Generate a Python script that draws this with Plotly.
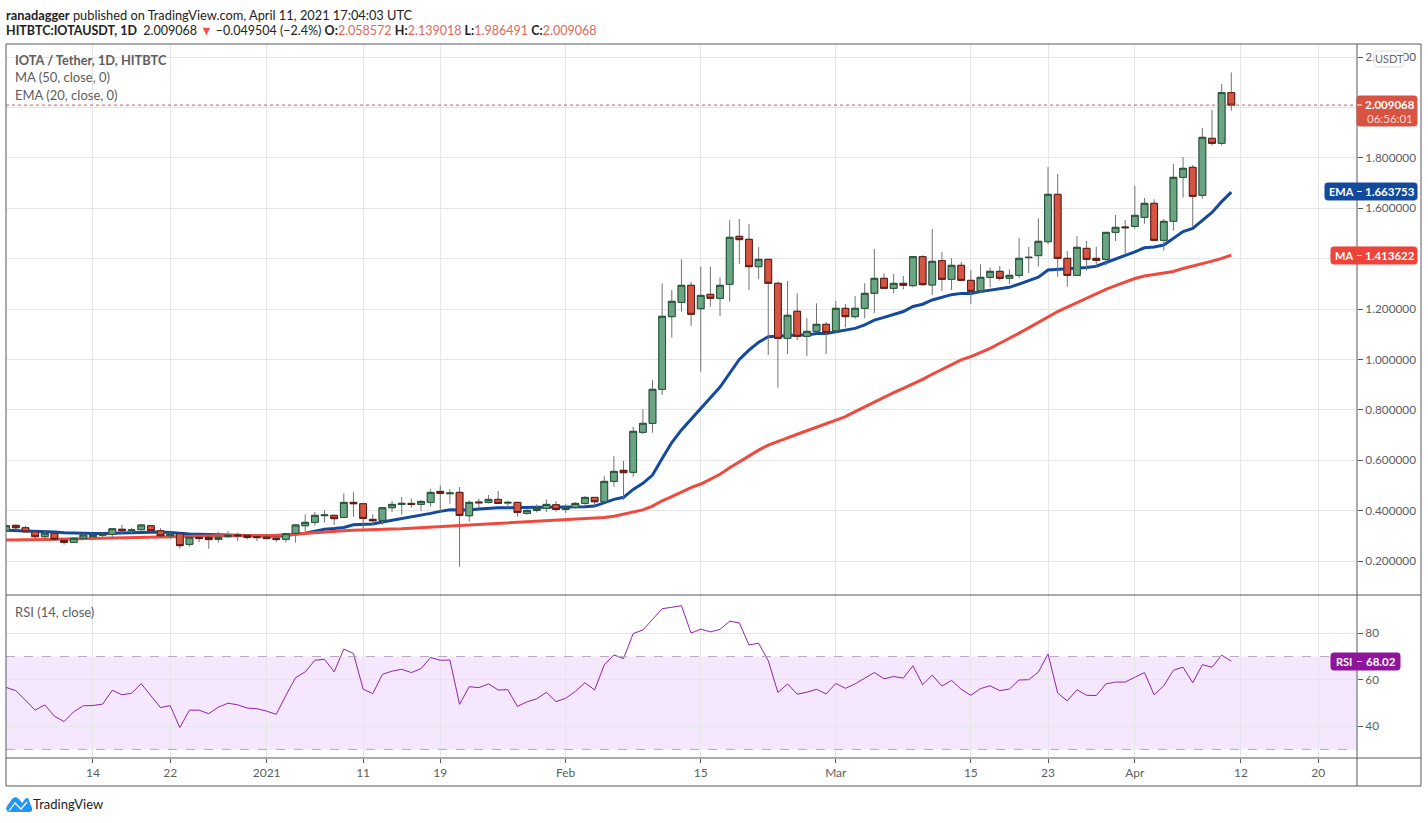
import pandas as pd
import plotly.graph_objects as go

dates = pd.date_range("2020-12-05", "2021-04-11").strftime("%Y-%m-%d").tolist()

opens = [.320, .3415, .332, .316, .2965, .310, .282, .274, .290, .2965, .302, .306, .326, .320, .3243, .340, .320, .300, .3085, .266,
         .294, .294, .286, .2965, .303, .302, .2965, .295, .290, .286, .310, .340, .3534, .3799, .3812, .3731, .4326, .4273, .3651, .3612,
         .4114, .4247, .4286, .4247, .4326, .4763, .467, .4723, .3797, .4339, .4326, .4445, .43, .4326, .3889, .4008, .4088, .4233, .4048, .4128,
         .4286, .4524, .4352, .516, .5598, .5519, .7106, .7463, .881, 1.1696, 1.2265, 1.294, 1.2013, 1.2582, 1.2424, 1.2979, 1.4884, 1.4765, 1.368, 1.397,
         1.302, 1.0836, 1.191, 1.0916, 1.1114, 1.1392, 1.114, 1.2027, 1.1696, 1.2027, 1.2622, 1.3217, 1.2820, 1.3019, 1.2926, 1.4077, 1.2953, 1.3918, 1.3178, 1.3733,
         1.3138, 1.2728, 1.3257, 1.3495, 1.3217, 1.3336, 1.4037, 1.4117, 1.4672, 1.655, 1.401, 1.3336, 1.4407, 1.401, 1.397, 1.5042, 1.5254, 1.528, 1.5637, 1.6193,
         1.4725, 1.5479, 1.7225, 1.7622, 1.6510, 1.8772, 1.8574, 2.058572]
highs = [.343, .345, .339, .320, .320, .312, .286, .294, .310, .307, .312, .331, .343, .332, .347, .344, .330, .316, .312, .299,
         .302, .305, .315, .319, .312, .307, .305, .305, .294, .310, .347, .3852, .3944, .401, .3838, .4683, .4736, .4286, .385, .4141,
         .4379, .4538, .4485, .4405, .4842, .500, .4855, .4935, .4405, .4472, .4617, .4776, .4392, .4352, .4048, .4247, .4445, .4379, .4247, .4339,
         .4577, .4538, .5371, .6165, .5969, .7318, .8019, .918, 1.302, 1.2754, 1.397, 1.307, 1.368, 1.368, 1.3257, 1.553, 1.5572, 1.5373, 1.446, 1.397,
         1.3085, 1.311, 1.262, 1.1643, 1.2225, 1.1484, 1.2318, 1.2199, 1.2516, 1.3019, 1.4381, 1.3416, 1.3389, 1.331, 1.4077, 1.413, 1.5175, 1.4262, 1.4011, 1.3865,
         1.3548, 1.3773, 1.364, 1.3707, 1.3574, 1.4818, 1.446, 1.5598, 1.7635, 1.7357, 1.4301, 1.4897, 1.4698, 1.4473, 1.5042, 1.573, 1.5532, 1.6881, 1.6405, 1.6352,
         1.5571, 1.7754, 1.8032, 1.7714, 1.9182, 1.9897, 2.0929, 2.139018]
lows = [.316, .327, .312, .290, .290, .281, .265, .273, .286, .294, .294, .294, .307, .310, .320, .315, .2965, .286, .249, .257,
        .275, .249, .273, .293, .2794, .286, .2794, .286, .275, .273, .273, .316, .340, .352, .343, .3704, .3757, .3294, .3426, .344,
        .3942, .3836, .4114, .3995, .4154, .3956, .4273, .1773, .3559, .4088, .4286, .4273, .4088, .3757, .3836, .3929, .3942, .3956, .3903, .4088,
        .4233, .4167, .4326, .4948, .4421, .5347, .7040, .7093, .859, 1.0863, 1.1894, 1.1326, .9513, 1.209, 1.172, 1.229, 1.3786, 1.2754, 1.319, 1.0175,
        .8878, 1.0215, 1.077, 1.0135, 1.106, 1.0215, 1.106, 1.1273, 1.1617, 1.163, 1.1841, 1.2794, 1.2622, 1.2781, 1.286, 1.2926, 1.2556, 1.2715, 1.2754, 1.3111,
        1.2199, 1.2622, 1.286, 1.3125, 1.2992, 1.3230, 1.3416, 1.368, 1.4566, 1.3283, 1.2886, 1.3336, 1.352, 1.3653, 1.372, 1.4698, 1.4143, 1.5188, 1.5386, 1.4725,
        1.4315, 1.5108, 1.6418, 1.5267, 1.6378, 1.8481, 1.8481, 1.986491]
closes = [.340, .332, .316, .2965, .310, .286, .274, .290, .303, .302, .305, .328, .320, .323, .343, .320, .300, .307, .261, .294,
          .289, .285, .294, .302, .300, .293, .293, .289, .285, .3085, .343, .3534, .3812, .3825, .368, .4326, .4273, .3691, .3598, .4114,
          .4247, .4286, .4247, .4366, .4723, .4683, .4696, .381, .4326, .4313, .4445, .4286, .4326, .3929, .4008, .4088, .4247, .4048, .4114, .4286,
          .4524, .4352, .516, .5556, .5505, .7146, .7463, .8813, 1.171, 1.2305, 1.294, 1.179, 1.254, 1.2424, 1.294, 1.4844, 1.4752, 1.368, 1.397, 1.302,
          1.0836, 1.175, 1.0916, 1.1114, 1.1392, 1.1074, 1.2027, 1.1696, 1.2027, 1.2622, 1.3217, 1.2820, 1.3019, 1.294, 1.4077, 1.2966, 1.3892, 1.3178, 1.3733, 1.3138,
          1.2701, 1.3257, 1.3495, 1.3217, 1.3336, 1.4011, 1.405, 1.4686, 1.655, 1.401, 1.3336, 1.4447, 1.397, 1.393, 1.5042, 1.5241, 1.5227, 1.5717, 1.6193, 1.4725,
          1.5479, 1.7225, 1.7582, 1.6471, 1.8812, 1.8574, 2.0586, 2.009068]

ema = [.322, .321, .320, .319, .318, .315, .312, .310, .309, .309, .309, .310, .311, .311, .313, .315, .315, .313, .309, .307,
       .306, .305, .304, .303, .303, .302, .300, .299, .298, .300, .307, .310, .318, .326, .329, .333, .344, .3466, .3466, .3546,
       .361, .368, .374, .381, .389, .397, .4035, .402, .402, .406, .409, .4114, .4114, .4128, .413, .413, .413, .413, .413, .414,
       .4154, .418, .431, .4445, .4527, .484, .508, .541, .607, .670, .720, .762, .803, .845, .89, .945, 1.0, 1.037, 1.068, 1.09,
       1.093, 1.093, 1.097, 1.097, 1.103, 1.103, 1.11, 1.117, 1.123, 1.137, 1.156, 1.167, 1.18, 1.19, 1.21, 1.219, 1.236, 1.245, 1.257, 1.262,
       1.262, 1.269, 1.275, 1.279, 1.286, 1.299, 1.313, 1.326, 1.355, 1.358, 1.358, 1.361, 1.365, 1.37, 1.384, 1.398, 1.41, 1.427, 1.443, 1.446,
       1.454, 1.48, 1.507, 1.52, 1.553, 1.583, 1.626, 1.663753]
ma = [.283, .283, .284, .284, .285, .286, .287, .288, .289, .289, .290, .291, .292, .293, .294, .295, .296, .297, .298, .298,
      .299, .299, .300, .300, .300, .301, .301, .302, .302, .304, .307, .310, .313, .315, .317, .320, .322, .324, .325, .326,
      .327, .328, .330, .332, .334, .336, .338, .341, .342, .344, .346, .348, .350, .352, .354, .356, .358, .361, .363, .365,
      .367, .370, .373, .378, .386, .392, .403, .418, .439, .4553, .474, .491, .5055, .524, .544, .570, .594, .615, .640, .660,
      .673, .689, .703, .717, .730, .746, .759, .773, .793, .812, .832, .849, .868, .885, .902, .921, .941, .961, .980, .998,
      1.011, 1.027, 1.044, 1.064, 1.083, 1.104, 1.125, 1.147, 1.17, 1.19, 1.207, 1.225, 1.243, 1.261, 1.278, 1.293, 1.308, 1.321, 1.331, 1.337,
      1.341, 1.349, 1.361, 1.37, 1.381, 1.39, 1.401, 1.413622]
rsi = [56.7, 55.3, 51.2, 46.9, 49.2, 44.3, 42, 46.2, 48.8, 48.9, 49.5, 55.5, 53.5, 54.2, 58.3, 53, 48, 48.9, 39.4, 46.9,
       46.9, 45.4, 48.2, 49.9, 49.2, 47.8, 47.5, 46.5, 45.1, 53.3, 60.9, 63.4, 68.4, 68.8, 63.4, 73.2, 71.3, 56, 54, 62.3,
       63.7, 64.5, 63.1, 64.8, 69.6, 68.4, 68.5, 49.4, 57, 56.6, 58.2, 55.6, 55.7, 48.5, 50.5, 51.8, 54.6, 50.6, 52, 55,
       58.7, 55.6, 66.4, 70.7, 69.1, 79.9, 81.4, 86, 90.6, 91.2, 91.9, 80.1, 81.8, 80.6, 81.7, 85.2, 84.5, 75, 75.7, 68.2,
       54.5, 58.2, 53.8, 54.6, 55.9, 53.9, 58.4, 56.3, 58.2, 60.7, 63.1, 60.4, 61.4, 60.7, 66, 57.9, 62, 57.3, 59.7, 55.9,
       53.3, 56.2, 57.4, 55.3, 56, 59.9, 60, 63.3, 71.1, 54.3, 50.9, 55.7, 53.3, 53.2, 58.2, 59, 59, 61.1, 63.1, 53.5,
       57.4, 64.1, 65.4, 58.7, 66.5, 65.4, 70.6, 68.02]

tick_dates = ["2020-12-14", "2020-12-22", "2021-01-01", "2021-01-11", "2021-01-19", "2021-02-01", "2021-02-15",
              "2021-03-01", "2021-03-15", "2021-03-23", "2021-04-01", "2021-04-12", "2021-04-20"]
tick_labels = ["14", "22", "2021", "11", "19", "Feb", "15", "Mar", "15", "23", "Apr", "12", "20"]
price_ticks = [0.2, 0.4, 0.6, 0.8, 1.0, 1.2, 1.4, 1.6, 1.8, 2.0, 2.2]
# 1.4 and 2.0 sit behind the MA and last price tags, so they show no text
price_labels = ["0.200000", "0.400000", "0.600000", "0.800000", "1.000000", "1.200000", "", "1.600000", "1.800000", "", "2.200000"]
rsi_ticks = [40, 60, 80]

W, H = 1428, 823
FONT = "Lato"
GRID = "#e6e6e6"
FRAME = "#55585f"
TEXT = "#5d5d5d"
GREEN, GREEN_EDGE = "#6ba583", "#225437"
RED, RED_EDGE = "#d75442", "#5b1a13"


def px(x):
    return x / W


def py(y):
    return 1 - y / H


def paper_line(x0, y0, x1, y1, color=FRAME, width=1):
    return dict(type="line", xref="paper", yref="paper", x0=px(x0), y0=py(y0), x1=px(x1), y1=py(y1),
                line=dict(color=color, width=width), layer="above")


def round_box(x0, y0, x1, y1, fill, line=None, r=2.5):
    # rounded rectangle given in page pixels
    pts = [(x0 + r, y0), (x1 - r, y0), (x1, y0), (x1, y0 + r), (x1, y1 - r), (x1, y1), (x1 - r, y1),
           (x0 + r, y1), (x0, y1), (x0, y1 - r), (x0, y0 + r), (x0, y0), (x0 + r, y0)]
    p = [f"{px(a):.5f},{py(b):.5f}" for a, b in pts]
    path = f"M{p[0]} L{p[1]} Q{p[2]} {p[3]} L{p[4]} Q{p[5]} {p[6]} L{p[7]} Q{p[8]} {p[9]} L{p[10]} Q{p[11]} {p[12]} Z"
    return dict(type="path", xref="paper", yref="paper", path=path, fillcolor=fill,
                line=dict(color=line or fill, width=1), layer="above")


def label(x, y, text, size=12, color=TEXT, anchor="left"):
    return dict(xref="paper", yref="paper", x=px(x), y=py(y), text=text, showarrow=False, xanchor=anchor,
                yanchor="middle", align=anchor, borderpad=0, borderwidth=0,
                font=dict(family=FONT, size=size, color=color))


body_high = [max(o, c) for o, c in zip(opens, closes)]
body_low = [min(o, c) for o, c in zip(opens, closes)]

fig = go.Figure()
fig.add_trace(go.Scatter(x=dates, y=ema, mode="lines", line=dict(color="#134a9e", width=3), zorder=-1, hoverinfo="skip"))
fig.add_trace(go.Scatter(x=dates, y=ma, mode="lines", line=dict(color="#ef4a3f", width=3), zorder=-1, hoverinfo="skip"))
# grey wicks first, then the bodies with their dark edge on top
fig.add_trace(go.Candlestick(x=dates, open=opens, high=highs, low=lows, close=closes, whiskerwidth=0,
                             increasing=dict(line=dict(color="#737375", width=1), fillcolor=GREEN),
                             decreasing=dict(line=dict(color="#737375", width=1), fillcolor=RED)))
fig.add_trace(go.Candlestick(x=dates, open=opens, high=body_high, low=body_low, close=closes, whiskerwidth=0,
                             increasing=dict(line=dict(color=GREEN_EDGE, width=1), fillcolor=GREEN),
                             decreasing=dict(line=dict(color=RED_EDGE, width=1), fillcolor=RED)))
fig.add_trace(go.Scatter(x=dates, y=rsi, mode="lines", xaxis="x2", yaxis="y2", line=dict(color="#8e24aa", width=1),
                         hoverinfo="skip"))

shapes = [
    # RSI band and its dashed limits
    dict(type="rect", xref="x2 domain", yref="y2", x0=0, x1=1, y0=30, y1=70, fillcolor="rgba(160,40,240,0.11)",
         line=dict(width=0), layer="below"),
    dict(type="line", xref="x2 domain", yref="y2", x0=0, x1=1, y0=70, y1=70, line=dict(color="#b8a9be", width=1, dash="dash")),
    dict(type="line", xref="x2 domain", yref="y2", x0=0, x1=1, y0=30, y1=30, line=dict(color="#b8a9be", width=1, dash="dash")),
    # last price line
    dict(type="line", xref="x domain", yref="y", x0=0, x1=1, y0=closes[-1], y1=closes[-1],
         line=dict(color="#c9594a", width=1, dash="dot")),
    # frame
    paper_line(6, 44, 1421, 44), paper_line(6, 44, 6, 786), paper_line(1421, 44, 1421, 786),
    paper_line(6, 786, 1421, 786), paper_line(6, 595, 1421, 595), paper_line(6, 758, 1421, 758),
    paper_line(1357, 44, 1357, 786),
    # value tags
    round_box(1374, 51, 1404, 67, "white", "#dddddd", 4),
    round_box(1357, 96, 1417, 126, "#d75442"),
    round_box(1325, 183, 1417, 200, "#134a9e"),
    round_box(1331, 247, 1417, 264, "#ef4238"),
    round_box(1331, 653, 1400, 670, "#8e1599"),
    paper_line(1357, 191.5, 1362, 191.5, "white"),
    paper_line(1357, 255.5, 1362, 255.5, "white"),
    paper_line(1357, 661.5, 1362, 661.5, "white"),
    paper_line(1357, 105, 1362, 105, "white"),
    # TradingView cloud
    dict(type="path", xref="paper", yref="paper", fillcolor="#2196f3", line=dict(width=0), layer="above",
         path="M" + " L".join(f"{px(a):.5f},{py(b):.5f}" for a, b in
                              [(8, 812), (6, 809), (7, 806), (13, 798), (16, 797), (19, 799), (22, 803), (26, 798),
                               (28, 798), (30, 803), (32, 808), (32, 811), (30, 812)]) + " Z"),
    dict(type="path", xref="paper", yref="paper", line=dict(color="white", width=1.2), layer="above",
         path="M" + " L".join(f"{px(a):.5f},{py(b):.5f}" for a, b in [(9, 811), (15, 803), (21, 809), (27, 802)])),
]

down = '<span style="color:#e0695c">'
arrow = '<span style="color:#f0544a">▼</span>'
header = (f"<b>HITBTC:IOTAUSDT, 1D</b>  2.009068 {arrow} −0.049504 (−2.4%) "
          f"<b>O:</b>{down}2.058572</span> <b>H:</b>{down}2.139018</span> "
          f"<b>L:</b>{down}1.986491</span> <b>C:</b>{down}2.009068</span>")
annotations = [
    label(6, 15, "<b>ranadagger</b> published on TradingView.com, April 11, 2021 17:04:03 UTC", 12.8, "#222222"),
    label(6, 30, header, 12.5, "#222222"),
    label(15, 60, "<b>IOTA / Tether, 1D, HITBTC</b>", 12.8),
    label(15, 77, "MA (50, close, 0)", 13),
    label(15, 95, "EMA (20, close, 0)", 13),
    label(15, 612, "RSI (14, close)", 13),
    label(1389, 59, "USDT", 11, "#666666", "center"),
    label(1389.5, 104.5, "<b>2.009068</b>", 11.5, "white", "center"),
    label(1389.5, 118, "06:56:01", 11.5, "#f8d8d3", "center"),
    label(1341, 191.5, "<b>EMA</b>", 11, "white", "center"),
    label(1389.5, 191.5, "<b>1.663753</b>", 11.5, "white", "center"),
    label(1344, 255.5, "<b>MA</b>", 11, "white", "center"),
    label(1389.5, 255.5, "<b>1.413622</b>", 11.5, "white", "center"),
    label(1344, 661.5, "<b>RSI</b>", 11, "white", "center"),
    label(1381, 661.5, "<b>68.02</b>", 11.5, "white", "center"),
    label(33, 804, "TradingView", 13, "#222222"),
]

x_range = ["2020-12-04 23:34", "2021-04-24 00:43"]
fig.update_layout(
    width=W, height=H, autosize=False, margin=dict(l=0, r=0, t=0, b=0),
    paper_bgcolor="white", plot_bgcolor="white", showlegend=False, hovermode=False,
    boxmode="overlay", boxgap=0.3, boxgroupgap=0,
    font=dict(family=FONT, size=12, color=TEXT),
    xaxis=dict(domain=[px(6), px(1357)], anchor="y", type="date", range=x_range, rangeslider=dict(visible=False),
               tickmode="array", tickvals=tick_dates, ticktext=[""] * len(tick_dates), ticks="",
               showgrid=True, gridcolor=GRID, gridwidth=1, zeroline=False),
    yaxis=dict(domain=[py(595), py(44)], anchor="x", side="right", range=[0.0651, 2.2516], tickmode="array",
               tickvals=price_ticks, ticktext=price_labels, ticks="outside", ticklen=5,
               tickcolor=FRAME, showgrid=True, gridcolor=GRID, gridwidth=1, zeroline=False,
               tickfont=dict(family=FONT, size=11.8, color=TEXT)),
    xaxis2=dict(domain=[px(6), px(1357)], anchor="y2", type="date", range=x_range, matches="x",
                tickmode="array", tickvals=tick_dates, ticktext=tick_labels, ticks="outside", ticklen=4,
                tickcolor=FRAME, showgrid=True, gridcolor=GRID, gridwidth=1, zeroline=False,
                tickangle=0, tickfont=dict(family=FONT, size=12, color=TEXT)),
    yaxis2=dict(domain=[py(758), py(595)], anchor="x2", side="right", range=[26.3, 96.5], tickmode="array",
                tickvals=rsi_ticks, ticktext=[str(v) for v in rsi_ticks], ticks="outside", ticklen=5,
                tickcolor=FRAME, showgrid=True, gridcolor=GRID, gridwidth=1, zeroline=False,
                tickfont=dict(family=FONT, size=11.8, color=TEXT)),
    shapes=shapes,
    annotations=annotations,
)

fig.write_html("out.html", config=dict(displayModeBar=False), post_script="document.body.style.margin='0';")
